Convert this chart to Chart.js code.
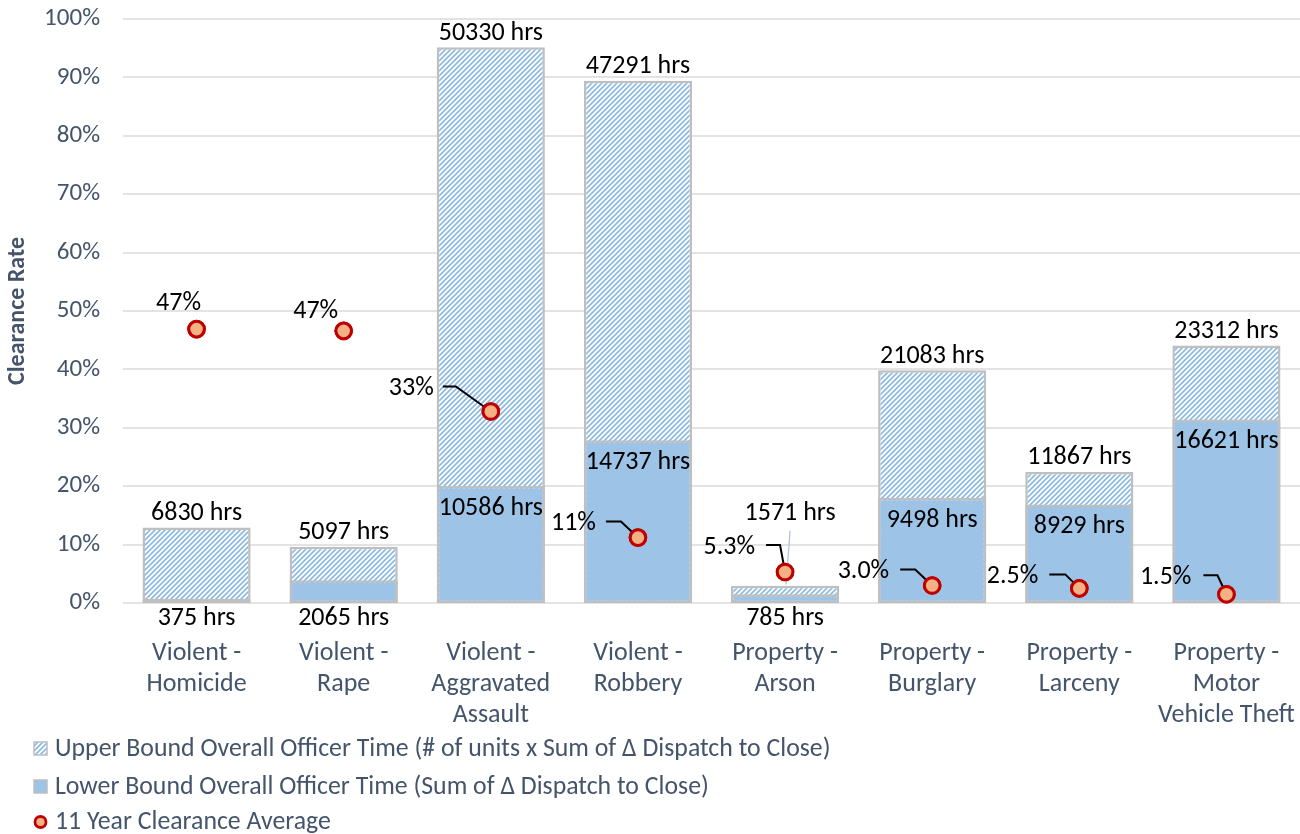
<!DOCTYPE html>
<html>
<head>
<meta charset="utf-8">
<script src="https://cdn.jsdelivr.net/npm/chart.js@4.4.1/dist/chart.umd.min.js"></script>
<style>
  html, body { margin: 0; padding: 0; background: #ffffff; }
  #wrap { width: 1300px; height: 834px; position: relative; }
</style>
</head>
<body>
<div id="wrap"><canvas id="c" width="1300" height="834"></canvas></div>
<script>
// ---------- data ----------
const categories = [
  ['Violent -', 'Homicide'],
  ['Violent -', 'Rape'],
  ['Violent -', 'Aggravated', 'Assault'],
  ['Violent -', 'Robbery'],
  ['Property -', 'Arson'],
  ['Property -', 'Burglary'],
  ['Property -', 'Larceny'],
  ['Property -', 'Motor', 'Vehicle Theft']
];
const upperHours = [6830, 5097, 50330, 47291, 1571, 21083, 11867, 23312];
const lowerHours = [375, 2065, 10586, 14737, 785, 9498, 8929, 16621];
const clearanceAvg = [46.9, 46.6, 32.8, 11.2, 5.3, 3.0, 2.5, 1.5];
const percentTicks = [0, 10, 20, 30, 40, 50, 60, 70, 80, 90, 100];
const seriesNames = [
  'Upper Bound Overall Officer Time (# of units x Sum of \u0394 Dispatch to Close)',
  'Lower Bound Overall Officer Time (Sum of \u0394 Dispatch to Close)',
  '11 Year Clearance Average'
];
const hoursAxisMax = 52880;

// ---------- styles ----------
const FONT = "Carlito, Lato, 'Open Sans', sans-serif";
const SLATE = '#44546a';
const BLUE = '#9dc3e6';
const BORDER = '#bfbfbf';
const TY = 3; // vertical text nudge for the label font
// label placement (style only): offsets relative to the point
const pointLabelStyle = [
  { mode: 'above', dx: -18, dy: -29 },
  { mode: 'above', dx: -28, dy: -22 },
  { mode: 'leader', tx: -57, ty: -26, s1: -48, s2: -35 },
  { mode: 'leader', tx: -42, ty: -17, s1: -32, s2: -17 },
  { mode: 'leader', tx: -30, ty: -28, s1: -19, s2: -5 },
  { mode: 'leader', tx: -43, ty: -17, s1: -32, s2: -17 },
  { mode: 'leader', tx: -41, ty: -15, s1: -30, s2: -14 },
  { mode: 'leader', tx: -35, ty: -20, s1: -23, s2: -9 }
];
const upperLabelSpecial = { 4: { dx: 5, dy: -75, leader: true } };

function makeHatch() {
  const c = document.createElement('canvas');
  const s = 5;
  c.width = c.height = s;
  const g = c.getContext('2d');
  g.fillStyle = '#ffffff';
  g.fillRect(0, 0, s, s);
  g.strokeStyle = '#8fbbe3';
  g.lineWidth = 1.8;
  g.beginPath();
  g.moveTo(0, s); g.lineTo(s, 0);
  g.moveTo(-1, 1); g.lineTo(1, -1);
  g.moveTo(s - 1, s + 1); g.lineTo(s + 1, s - 1);
  g.stroke();
  return g.createPattern(c, 'repeat');
}
const hatch = makeHatch();

function fmtPct(v) {
  return v >= 10 ? Math.round(v) + '%' : v.toFixed(1) + '%';
}

const labelPlugin = {
  id: 'labels',
  afterDatasetsDraw(chart) {
    const ctx = chart.ctx;
    const upMeta = chart.getDatasetMeta(0);
    const loMeta = chart.getDatasetMeta(1);
    const ptMeta = chart.getDatasetMeta(2);
    ctx.save();
    ctx.font = '26px ' + FONT;
    ctx.fillStyle = '#000000';
    ctx.textAlign = 'center';
    ctx.textBaseline = 'middle';
    // upper labels
    upMeta.data.forEach((bar, i) => {
      const sp = upperLabelSpecial[i];
      const txt = upperHours[i] + ' hrs';
      if (sp) {
        const lx = bar.x + sp.dx, ly = bar.y + sp.dy;
        ctx.fillText(txt, lx, ly + TY);
        if (sp.leader) {
          ctx.save();
          ctx.strokeStyle = '#a9c4e0';
          ctx.lineWidth = 1.2;
          ctx.beginPath();
          ctx.moveTo(lx, ly + 20);
          ctx.lineTo(bar.x + 1, bar.y - 1);
          ctx.stroke();
          ctx.restore();
        }
      } else {
        ctx.fillText(txt, bar.x, bar.y - 17 + TY);
      }
    });
    // lower labels
    loMeta.data.forEach((bar, i) => {
      const txt = lowerHours[i] + ' hrs';
      const h = bar.base - bar.y;
      if (h > 40) ctx.fillText(txt, bar.x, bar.y + 19 + TY);
      else ctx.fillText(txt, bar.x, bar.base + 15);
    });
    // point labels
    ptMeta.data.forEach((pt, i) => {
      const st = pointLabelStyle[i];
      const txt = fmtPct(clearanceAvg[i]);
      if (st.mode === 'above') {
        ctx.textAlign = 'center';
        ctx.fillText(txt, pt.x + st.dx, pt.y + st.dy + TY);
      } else {
        ctx.textAlign = 'right';
        ctx.fillText(txt, pt.x + st.tx, pt.y + st.ty + TY);
        ctx.strokeStyle = '#000000';
        ctx.lineWidth = 2;
        ctx.beginPath();
        ctx.moveTo(pt.x + st.s1, pt.y + st.ty + 1);
        ctx.lineTo(pt.x + st.s2, pt.y + st.ty + 1);
        ctx.lineTo(pt.x, pt.y);
        ctx.stroke();
      }
    });
    ctx.restore();
    // redraw points on top of leader lines
    ptMeta.data.forEach(pt => pt.draw(ctx, chart.chartArea));
  },
  afterDraw(chart) {
    const ctx = chart.ctx;
    ctx.save();
    const rows = [749, 787, 822];
    ctx.font = '25.8px ' + FONT;
    ctx.textAlign = 'left';
    ctx.textBaseline = 'middle';
    // icon 1: hatched square
    ctx.fillStyle = hatch;
    ctx.fillRect(34, rows[0] - 7, 13, 13);
    ctx.strokeStyle = BORDER; ctx.lineWidth = 1.5;
    ctx.strokeRect(34, rows[0] - 7, 13, 13);
    // icon 2: solid square
    ctx.fillStyle = BLUE;
    ctx.fillRect(34, rows[1] - 7, 13, 13);
    ctx.strokeRect(34, rows[1] - 7, 13, 13);
    // icon 3: circle
    ctx.beginPath();
    ctx.arc(40.5, rows[2], 5.5, 0, Math.PI * 2);
    ctx.fillStyle = '#f4b183';
    ctx.fill();
    ctx.strokeStyle = '#c00000'; ctx.lineWidth = 2.8;
    ctx.stroke();
    ctx.fillStyle = SLATE;
    seriesNames.forEach((n, i) => ctx.fillText(n, 55, rows[i] + 1));
    ctx.restore();
  }
};

new Chart(document.getElementById('c'), {
  data: {
    labels: categories,
    datasets: [
      {
        type: 'bar',
        label: seriesNames[0],
        data: upperHours,
        yAxisID: 'yh',
        backgroundColor: hatch,
        borderColor: BORDER,
        borderWidth: 2.5,
        borderSkipped: false,
        grouped: false,
        categoryPercentage: 1,
        barPercentage: 0.735,
        order: 2
      },
      {
        type: 'bar',
        label: seriesNames[1],
        data: lowerHours,
        yAxisID: 'yh',
        backgroundColor: BLUE,
        borderColor: BORDER,
        borderWidth: 2.5,
        borderSkipped: false,
        grouped: false,
        categoryPercentage: 1,
        barPercentage: 0.735,
        order: 1
      },
      {
        type: 'line',
        label: seriesNames[2],
        data: clearanceAvg,
        yAxisID: 'y',
        showLine: false,
        pointRadius: 7.8,
        pointBorderWidth: 3,
        pointBackgroundColor: '#f4b183',
        pointBorderColor: '#c00000',
        clip: false,
        order: 0
      }
    ]
  },
  options: {
    responsive: false,
    animation: false,
    events: [],
    layout: { autoPadding: false, padding: { top: 19, right: 0, bottom: 101, left: 0 } },
    plugins: { legend: { display: false }, tooltip: { enabled: false } },
    scales: {
      x: {
        offset: true,
        grid: { display: false, drawTicks: false },
        border: { display: false },
        ticks: {
          color: SLATE,
          font: { family: FONT, size: 26, lineHeight: 1.19 },
          padding: 35,
          maxRotation: 0,
          autoSkip: false
        },
        afterFit(scale) {
          scale.height = 130;
          scale.paddingLeft = 0; scale.paddingRight = 0;
        }
      },
      y: {
        position: 'left',
        min: 0,
        max: 100,
        afterBuildTicks(scale) { scale.ticks = percentTicks.map(v => ({ value: v })); },
        grid: { color: '#e3e3e3', lineWidth: 2, drawTicks: false },
        border: { display: false },
        ticks: {
          color: SLATE,
          font: { family: FONT, size: 25 },
          padding: 23,
          callback: v => v + '%'
        },
        title: {
          display: true,
          text: 'Clearance Rate',
          color: SLATE,
          font: { family: FONT, size: 24, weight: 'bold' },
          padding: { top: 4, bottom: 0 }
        },
        afterFit(scale) {
          scale.width = 123;
          scale.paddingTop = 0; scale.paddingBottom = 0;
        }
      },
      yh: {
        display: false,
        min: 0,
        max: hoursAxisMax
      }
    }
  },
  plugins: [labelPlugin]
});
</script>
</body>
</html>
